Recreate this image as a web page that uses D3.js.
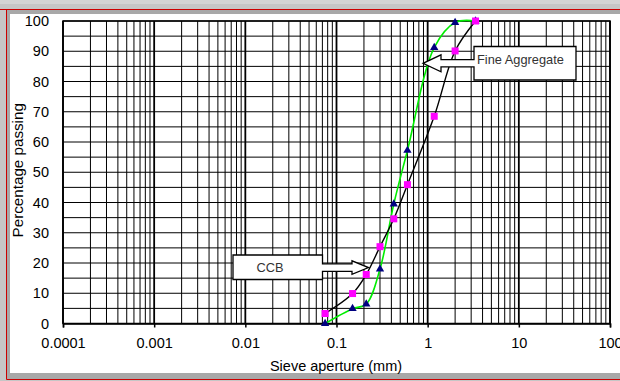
<!DOCTYPE html>
<html>
<head>
<meta charset="utf-8">
<script src="https://cdn.jsdelivr.net/npm/d3@7"></script>
<style>
  html, body { margin: 0; padding: 0; background: #fff; }
  svg { display: block; }
  text { font-family: Arial, "Liberation Sans", sans-serif; }
</style>
</head>
<body>
<svg id="chart" width="620" height="381"></svg>
<script>
// ---- data ----
const sieves = [0.075, 0.15, 0.212, 0.3, 0.425, 0.6, 1.18, 2.0, 3.35];
const fineAggregate = [0, 4.9, 6.4, 18, 39.5, 57.2, 91.2, 99.5, 100];
const ccb = [3.3, 9.9, 16.2, 25.4, 34.6, 45.9, 68.5, 90.1, 100];
const xTickValues = [0.0001, 0.001, 0.01, 0.1, 1, 10, 100];
const xTickLabels = ["0.0001", "0.001", "0.01", "0.1", "1", "10", "100"];
const yTickValues = [0, 10, 20, 30, 40, 50, 60, 70, 80, 90, 100];
const yGridValues = [0, 5, 10, 15, 20, 25, 30, 35, 40, 45, 50, 55, 60, 65, 70, 75, 80, 85, 90, 95, 100];
const xTitle = "Sieve aperture (mm)";
const yTitle = "Percentage passing";
const labelFine = "Fine Aggregate";
const labelCCB = "CCB";

const svg = d3.select("#chart");
const W = 620, H = 381;

// ---- frame / background ----
svg.append("rect").attr("x", 0).attr("y", 0).attr("width", W).attr("height", H).attr("fill", "#c6c6c6");
svg.append("rect").attr("x", 0).attr("y", 0).attr("width", W).attr("height", 4).attr("fill", "#d4d4d4");
svg.append("rect").attr("x", 7).attr("y", 10).attr("width", W - 7).attr("height", 369).attr("fill", "#a8a8a8");
svg.append("rect").attr("x", 10).attr("y", 14).attr("width", W - 10).attr("height", 359).attr("fill", "#ffffff");
// red hairlines
svg.append("line").attr("x1", 0).attr("x2", W).attr("y1", 9.5).attr("y2", 9.5).attr("stroke", "#cc0000").attr("stroke-width", 1);
svg.append("line").attr("x1", 6.5).attr("x2", 6.5).attr("y1", 9.5).attr("y2", 379.5).attr("stroke", "#cc0000").attr("stroke-width", 1);
svg.append("line").attr("x1", 6.5).attr("x2", W).attr("y1", 379.5).attr("y2", 379.5).attr("stroke", "#cc0000").attr("stroke-width", 1);

// ---- scales ----
const x = d3.scaleLog().domain([0.0001, 100]).range([63, 610]);
const y = d3.scaleLinear().domain([0, 100]).range([323.5, 21]);

const plot = svg.append("g");

// vertical gridlines (minor + decades)
plot.append("g").selectAll("line").data(x.ticks()).join("line")
  .attr("x1", d => x(d)).attr("x2", d => x(d))
  .attr("y1", y(0)).attr("y2", y(100))
  .attr("stroke", "#000")
  .attr("stroke-width", d => xTickValues.includes(d) ? 1.8 : 1);

// horizontal gridlines
plot.append("g").selectAll("line").data(yGridValues).join("line")
  .attr("x1", x(0.0001)).attr("x2", x(100))
  .attr("y1", d => y(d)).attr("y2", d => y(d))
  .attr("stroke", "#000").attr("stroke-width", 1);

// plot border
plot.append("rect")
  .attr("x", x(0.0001)).attr("y", y(100))
  .attr("width", x(100) - x(0.0001)).attr("height", y(0) - y(100))
  .attr("fill", "none").attr("stroke", "#000").attr("stroke-width", 1.5);

// ---- axes ----
const xAxis = d3.axisBottom(x).tickValues(xTickValues)
  .tickFormat((d, i) => xTickLabels[i]).tickSize(4).tickPadding(10);
const gx = svg.append("g").attr("transform", `translate(0,${y(0)})`).call(xAxis);
gx.select(".domain").attr("stroke", "#000").attr("stroke-width", 1.5);
gx.selectAll(".tick line").attr("stroke", "#000").attr("stroke-width", 1.5);
gx.selectAll("text").attr("font-size", 14.5).attr("fill", "#000")
  .attr("font-family", "Arial, 'Liberation Sans', sans-serif");

const yAxis = d3.axisLeft(y).tickValues(yTickValues).tickSize(0).tickPadding(14);
const gy = svg.append("g").attr("transform", `translate(${x(0.0001)},0)`).call(yAxis);
gy.select(".domain").remove();
gy.selectAll("text").attr("font-size", 14.5).attr("fill", "#000")
  .attr("font-family", "Arial, 'Liberation Sans', sans-serif");

// axis titles
svg.append("text").attr("x", 336).attr("y", 371).attr("text-anchor", "middle")
  .attr("font-size", 14.5).attr("fill", "#000").text(xTitle);
svg.append("text").attr("transform", `translate(22.5,${(y(0) + y(100)) / 2 - 2}) rotate(-90)`)
  .attr("text-anchor", "middle").attr("font-size", 15.2).attr("fill", "#000").text(yTitle);

// ---- series ----
const fineData = sieves.map((s, i) => [s, fineAggregate[i]]);
const ccbData = sieves.map((s, i) => [s, ccb[i]]);
const lineGen = d3.line().x(d => x(d[0])).y(d => y(d[1])).curve(d3.curveCatmullRom.alpha(0.5));

svg.append("path").datum(fineData).attr("d", lineGen)
  .attr("fill", "none").attr("stroke", "#00ee00").attr("stroke-width", 1.6);
svg.append("path").datum(ccbData).attr("d", lineGen)
  .attr("fill", "none").attr("stroke", "#000").attr("stroke-width", 1.4);

// markers
const tri = d3.symbol().type(d3.symbolTriangle).size(30);
svg.append("g").selectAll("path").data(fineData).join("path")
  .attr("transform", d => `translate(${x(d[0])},${y(d[1])})`)
  .attr("d", tri).attr("fill", "#000080");
svg.append("g").selectAll("rect").data(ccbData).join("rect")
  .attr("x", d => x(d[0]) - 3.5).attr("y", d => y(d[1]) - 3.5)
  .attr("width", 7).attr("height", 7).attr("fill", "#ff00ff");

// ---- callouts ----
// Fine Aggregate: left arrow callout
(function () {
  const bx0 = 474, bx1 = 576, by0 = 46.5, by1 = 80;
  const cy = 63.3, tipX = 423, headX = 441, headH = 8.5, stemH = 3.6;
  const p = [
    [bx0, by0], [bx1, by0], [bx1, by1], [bx0, by1],
    [bx0, cy + stemH], [headX, cy + stemH], [headX, cy + headH], [tipX, cy],
    [headX, cy - headH], [headX, cy - stemH], [bx0, cy - stemH]
  ];
  svg.append("path").attr("d", "M" + p.map(q => q.join(",")).join("L") + "Z")
    .attr("fill", "#fff").attr("stroke", "#000").attr("stroke-width", 1.3);
  svg.append("text").attr("x", 477).attr("y", 63.5).attr("font-size", 12.8)
    .attr("fill", "#333").text(labelFine);
})();

// CCB: right arrow callout
(function () {
  const bx0 = 233, bx1 = 322.5, by0 = 255, by1 = 279.5;
  const cy = 267.6, tipX = 368.5, headX = 352, headH = 6.8, stemH = 3.8;
  const p = [
    [bx0, by0], [bx1, by0], [bx1, cy - stemH], [headX, cy - stemH], [headX, cy - headH],
    [tipX, cy], [headX, cy + headH], [headX, cy + stemH], [bx1, cy + stemH], [bx1, by1], [bx0, by1]
  ];
  svg.append("path").attr("d", "M" + p.map(q => q.join(",")).join("L") + "Z")
    .attr("fill", "#fff").attr("stroke", "#000").attr("stroke-width", 1.3);
  svg.append("text").attr("x", 270).attr("y", 272).attr("text-anchor", "middle")
    .attr("font-size", 12.8).attr("fill", "#333").text(labelCCB);
})();
</script>
</body>
</html>
